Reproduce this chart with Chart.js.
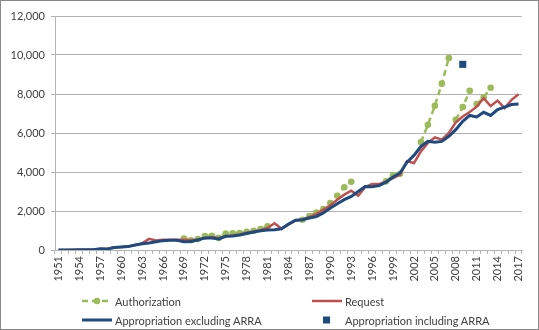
<!DOCTYPE html>
<html>
<head>
<meta charset="utf-8">
<script src="https://cdn.jsdelivr.net/npm/chart.js@4/dist/chart.umd.min.js"></script>
<style>
    body { margin: 0; background: #fff; }
    #wrap { position: relative; width: 539px; height: 330px; box-sizing: border-box; border: 1px solid #878787; font-family: Lato, sans-serif; }
    #box { position: absolute; left: 0; top: 0; width: 537px; height: 296px; }
    .leg { position: absolute; height: 14px; display: flex; align-items: center; font-size: 11px; color: #404040; white-space: nowrap; }
    .leg svg { margin-right: 3px; }
</style>
</head>
<body>
<div id="wrap">
    <div id="box"><canvas id="chart" width="537" height="296"></canvas></div>
</div>
<script>
// années (catégories)
const years = [
    1951, 1952, 1953, 1954, 1955, 1956, 1957, 1958, 1959, 1960,
    1961, 1962, 1963, 1964, 1965, 1966, 1967, 1968, 1969, 1970,
    1971, 1972, 1973, 1974, 1975, 1976, 1977, 1978, 1979, 1980,
    1981, 1982, 1983, 1984, 1985, 1986, 1987, 1988, 1989, 1990,
    1991, 1992, 1993, 1994, 1995, 1996, 1997, 1998, 1999, 2000,
    2001, 2002, 2003, 2004, 2005, 2006, 2007, 2008, 2009, 2010,
    2011, 2012, 2013, 2014, 2015, 2016, 2017
]

// Authorization (null = pas de loi cette année)
const authorization = [
    null, null, null, null, null, null, null, null, null, null,
    null, null, null, null, null, null, null, null, 590, 500,
    560, 720, 730, 620, 850, 860, 870, 930, 990, 1080,
    1210, null, null, null, null, 1550, 1740, 1920, 2100, 2410,
    2780, 3220, 3500, null, null, null, null, 3520, 3830, 3910,
    null, null, 5540, 6420, 7400, 8530, 9850, 6680, 7330, 8170,
    7490, 7830, 8320, null, null, null, null
]
// années après lesquelles la ligne pointillée est coupée (nouvelle loi)
const authorizationBreaks = [2007, 2010]

const request = [
    0, 5, 10, 10, 15, 25, 45, 70, 140, 160,
    190, 250, 340, 570, 490, 520, 520, 520, 520, 500,
    540, 600, 660, 600, 700, 740, 800, 890, 950, 1020,
    1130, 1370, 1090, 1300, 1500, 1560, 1690, 1850, 2070, 2290,
    2580, 2840, 3040, 2780, 3230, 3380, 3380, 3520, 3690, 3860,
    4550, 4460, 5060, 5490, 5780, 5660, 6000, 6550, 6850, 7080,
    7350, 7790, 7380, 7660, 7280, 7700, 7990
]

const appropriation = [
    0, 5, 5, 8, 12, 16, 60, 45, 130, 155,
    175, 260, 320, 355, 420, 480, 500, 500, 420, 440,
    510, 620, 620, 570, 700, 720, 770, 850, 920, 990,
    1020, 1040, 1090, 1330, 1530, 1550, 1640, 1720, 1900, 2150,
    2370, 2580, 2750, 3000, 3260, 3240, 3300, 3480, 3740, 3950,
    4500, 4850, 5310, 5570, 5520, 5570, 5830, 6170, 6600, 6900,
    6820, 7060, 6900, 7200, 7330, 7460, 7490
]

// ARRA : seulement 2009
const appropriationArra = [
    null, null, null, null, null, null, null, null, null, null,
    null, null, null, null, null, null, null, null, null, null,
    null, null, null, null, null, null, null, null, null, null,
    null, null, null, null, null, null, null, null, null, null,
    null, null, null, null, null, null, null, null, null, null,
    null, null, null, null, null, null, null, null, 9520, null,
    null, null, null, null, null, null, null
]

const yTicks = [0, 2000, 4000, 6000, 8000, 10000, 12000]

const colGreen = "#9BBB59"
const colRed = "#C0504D"
const colBlue = "#1F4A80"
const colText = "#404040"
const colGrid = "#B3B3B3"
const tickFont = { family: "Lato", size: 11 }

let configLine = {
    type: "line",
    data: {
        labels: years,
        datasets: [
        {
            label: "Authorization",
            data: authorization,
            borderColor: colGreen,
            backgroundColor: colGreen,
            borderWidth: 2.5,
            borderDash: [6, 4],
            pointRadius: 3.3,
            pointBorderWidth: 0,
            order: 3,
            segment: {
                borderColor: (ctx) => authorizationBreaks.includes(years[ctx.p0DataIndex]) ? "rgba(0,0,0,0)" : undefined,
            },
        },
        {
            label: "Request",
            data: request,
            borderColor: colRed,
            backgroundColor: colRed,
            borderWidth: 2.5,
            pointRadius: 0,
            order: 2,
        },
        {
            label: "Appropriation excluding ARRA",
            data: appropriation,
            borderColor: colBlue,
            backgroundColor: colBlue,
            borderWidth: 3,
            pointRadius: 0,
            order: 1,
        },
        {
            label: "Appropriation including ARRA",
            data: appropriationArra,
            showLine: false,
            borderColor: colBlue,
            backgroundColor: colBlue,
            pointStyle: "rect",
            pointRadius: 5,
            pointBorderWidth: 0,
            order: 0,
        },
        ],
    },
    options: {
        responsive: false,
        animation: false,
        layout: { padding: { top: 15, right: 16, left: 0, bottom: 0 } },
        plugins: { legend: { display: false }, tooltip: { enabled: false } },
        scales: {
            x: {
                offset: true,
                grid: { display: true, drawOnChartArea: false, drawTicks: true, tickLength: 4, color: colGrid, offset: true },
                border: { color: colGrid },
                afterFit: (scale) => { scale.height = 47 },
                ticks: {
                    autoSkip: false,
                    minRotation: 90,
                    maxRotation: 90,
                    padding: 2,
                    color: colText,
                    font: tickFont,
                    callback: function (value, index) {
                        return index % 3 === 0 ? years[index] : ""
                    },
                },
            },
            y: {
                min: 0,
                max: 12000,
                afterFit: (scale) => { scale.width = 54 },
                afterBuildTicks: (scale) => { scale.ticks = yTicks.map((v) => ({ value: v })) },
                grid: { color: colGrid, tickLength: 4 },
                border: { color: colGrid },
                ticks: {
                    padding: 6,
                    color: colText,
                    font: tickFont,
                    callback: (value) => value.toLocaleString("en-US"),
                },
            },
        },
    },
}

let chartLine = new Chart(document.getElementById("chart"), configLine)

// légende en html, 2 colonnes comme dans excel
function buildLegend() {
    let wrap = document.getElementById("wrap")
    let positions = [[81, 293], [311, 293], [81, 312], [311, 312]]
    configLine.data.datasets.forEach((ds, i) => {
        let item = document.createElement("div")
        item.className = "leg"
        item.style.left = positions[i][0] + "px"
        item.style.top = positions[i][1] + "px"
        let svg
        if (ds.pointStyle === "rect") {
            svg = `<svg width="30" height="10"><rect x="11" y="1.5" width="7" height="7" fill="${ds.backgroundColor}"/></svg>`
        } else {
            let dash = ds.borderDash ? `stroke-dasharray="${ds.borderDash.join(",")}"` : ""
            let dot = ds.pointRadius ? `<circle cx="15" cy="5" r="${ds.pointRadius}" fill="${ds.backgroundColor}"/>` : ""
            svg = `<svg width="30" height="10"><line x1="0" y1="5" x2="30" y2="5" stroke="${ds.borderColor}" stroke-width="${ds.borderWidth}" ${dash}/>${dot}</svg>`
        }
        item.innerHTML = svg + `<span>${ds.label}</span>`
        wrap.appendChild(item)
    })
}
buildLegend()
</script>
</body>
</html>
